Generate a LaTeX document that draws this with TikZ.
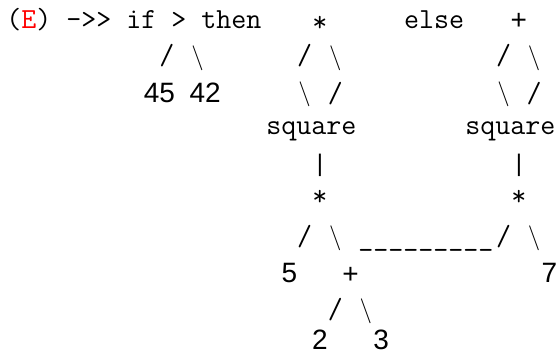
\documentclass[tikz,border=0pt]{standalone}
\usepackage{fontspec}
\usepackage{xcolor}
\newfontfamily\sansdig{Liberation Sans}
\tikzset{
  g/.style={inner sep=0pt, outer sep=0pt},
  mono/.style={g, anchor=base west, font=\fontsize{29.14}{30}\ttfamily},
  ttc/.style={g, anchor=base, font=\fontsize{29.14}{30}\ttfamily},
  dig/.style={g, anchor=base, font=\fontsize{28}{30}\sansdig},
  bar/.style={g, anchor=base, font=\fontsize{24}{26}\sansdig},
  sl/.style={g, anchor=center, font=\fontsize{29.14}{30}\ttfamily},
  bs/.style={g, anchor=center, font=\fontsize{29}{30}\selectfont},
}
\newcommand\cx[1]{{14+15.3*#1}}
\begin{document}
\begin{tikzpicture}[x=1pt,y=-1pt]
\useasboundingbox (0,0) rectangle (558,356);
% row 1
\node[mono] (lhs) at ({6.35},28) {(\textcolor{red}{E}) ->> if > then};
\node[ttc] (t1) at (\cx{20},31) {*};
\node[mono] (else) at ({6.35+15.3*26},28) {else};
\node[dig] (p1) at (\cx{33},30) {+};
% row 2
\node[sl] (a1) at (\cx{10},56) {/};
\node[bs] (a2) at (\cx{12},58.5) {$\backslash$};
\node[sl] (b1) at (\cx{19},56) {/};
\node[bs] (b2) at (\cx{21},58.5) {$\backslash$};
\node[sl] (c1) at (\cx{32},56) {/};
\node[bs] (c2) at (\cx{34},58.5) {$\backslash$};
% row 3
\node[dig] (n45) at ({14+15.3*9.5},102) {45};
\node[dig] (n42) at ({14+15.3*12.5},102) {42};
\node[bs] (b3) at (\cx{19},94) {$\backslash$};
\node[sl] (b4) at (\cx{21},93.5) {/};
\node[bs] (c3) at (\cx{32},94) {$\backslash$};
\node[sl] (c4) at (\cx{34},93.5) {/};
% row 4
\node[mono] (sq1) at ({6.35+15.3*17},134.5) {square};
\node[mono] (sq2) at ({6.35+15.3*30},134.5) {square};
% row 5
\node[bar] (v1) at (\cx{20},171) {|};
\node[bar] (v2) at (\cx{33},171) {|};
% row 6
\node[ttc] (t2) at (\cx{20},205) {*};
\node[ttc] (t3) at (\cx{33},205) {*};
% row 7
\node[sl] (d1) at (\cx{19},236.5) {/};
\node[bs] (d2) at (\cx{21},238) {$\backslash$};
\node[mono] (dash) at ({6.35+15.3*23},245) {\_\_\_\_\_\_\_\_\_};
\node[sl] (e1) at (\cx{32},236.5) {/};
\node[bs] (e2) at (\cx{34},238) {$\backslash$};
% row 8
\node[dig] (n5) at (\cx{18},282) {5};
\node[dig] (p2) at (\cx{22},283) {+};
\node[dig] (n7) at (\cx{35},282) {7};
% row 9
\node[sl] (f1) at (\cx{21},310) {/};
\node[bs] (f2) at (\cx{23},311) {$\backslash$};
% row 10
\node[dig] (n2) at (\cx{20},349) {2};
\node[dig] (n3) at (\cx{24},349) {3};
\end{tikzpicture}
\end{document}
